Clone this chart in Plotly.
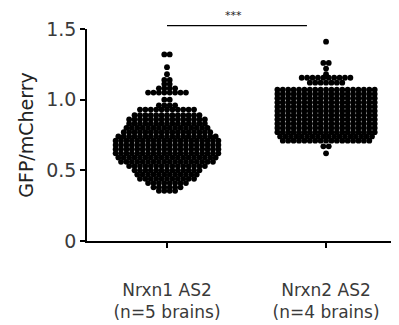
import plotly.graph_objects as go

# Category labels
categories = ["Nrxn1 AS2<br>(n=5 brains)", "Nrxn2 AS2<br>(n=4 brains)"]

# Group 1 (Nrxn1 AS2): GFP/mCherry value rows and number of points in each row
g1_levels = [1.32, 1.23, 1.18, 1.14, 1.11, 1.08, 1.05, 1.00, 0.96, 0.93, 0.89, 0.86, 0.83,
             0.80, 0.77, 0.74, 0.71, 0.68, 0.65, 0.62, 0.59, 0.56, 0.53, 0.50, 0.47, 0.44,
             0.41, 0.38, 0.355]
g1_counts = [2, 1, 1, 2, 2, 4, 8, 2, 4, 11, 13, 15, 15,
             16, 17, 19, 20, 20, 20, 20, 19, 18, 15, 13, 12, 11,
             8, 6, 4]

# Group 2 (Nrxn2 AS2)
g2_levels = [1.41, 1.26, 1.22, 1.18, 1.155, 1.12, 1.07, 1.04, 1.01, 0.98, 0.95, 0.92, 0.89,
             0.86, 0.83, 0.80, 0.77, 0.74, 0.71, 0.67, 0.62]
g2_counts = [1, 2, 1, 1, 10, 7, 19, 19, 19, 19, 19, 19, 19,
             19, 19, 19, 19, 18, 17, 2, 1]

# Significance
sig_text = "***"

DX = 0.034  # horizontal spacing between neighbouring dots (x-axis units)


def swarm(center, levels, counts):
    xs, ys = [], []
    for v, n in zip(levels, counts):
        for i in range(n):
            xs.append(center + (i - (n - 1) / 2) * DX)
            ys.append(v)
    return xs, ys


FONT = "DejaVu Sans, Liberation Sans, Arial, sans-serif"

fig = go.Figure()
for idx, (lv, ct) in enumerate([(g1_levels, g1_counts), (g2_levels, g2_counts)]):
    xs, ys = swarm(idx, lv, ct)
    fig.add_trace(go.Scatter(
        x=xs, y=ys, mode="markers",
        marker=dict(color="black", size=5.8, line=dict(width=0)),
        showlegend=False, hoverinfo="skip", cliponaxis=False,
    ))

fig.update_layout(
    width=399, height=325,
    margin=dict(l=79, r=0, t=21, b=92),
    paper_bgcolor="white", plot_bgcolor="white",
    font=dict(family=FONT, color="#3a3a3a"),
    xaxis=dict(
        range=[-0.503, 1.509], tickvals=[0, 1], ticktext=categories,
        showline=True, linecolor="black", linewidth=1.6,
        ticks="outside", ticklen=5, tickwidth=1.5, tickcolor="black",
        showgrid=False, zeroline=False, automargin=False,
        tickfont=dict(family=FONT, size=17, color="#3a3a3a"),
        ticklabelstandoff=28,
    ),
    yaxis=dict(
        range=[0, 1.5], tickvals=[0, 0.5, 1.0, 1.5], ticktext=["0", "0.5", "1.0", "1.5"],
        showline=True, linecolor="black", linewidth=1.6,
        ticks="outside", ticklen=5, tickwidth=1.5, tickcolor="black",
        showgrid=False, zeroline=False, automargin=False,
        tickfont=dict(family=FONT, size=19, color="#3a3a3a"),
        title=dict(text="GFP/mCherry", font=dict(family=FONT, size=19, color="#222222"), standoff=8),
    ),
    shapes=[dict(type="line", xref="x", yref="paper", x0=0, x1=0.88, y0=1.016, y1=1.016,
                 line=dict(color="black", width=1.3))],
    annotations=[dict(text=sig_text, xref="x", yref="paper", x=0.415, y=1.105,
                      showarrow=False, font=dict(family=FONT, size=11, color="#222222"))],
)

fig.write_html("out.html")
